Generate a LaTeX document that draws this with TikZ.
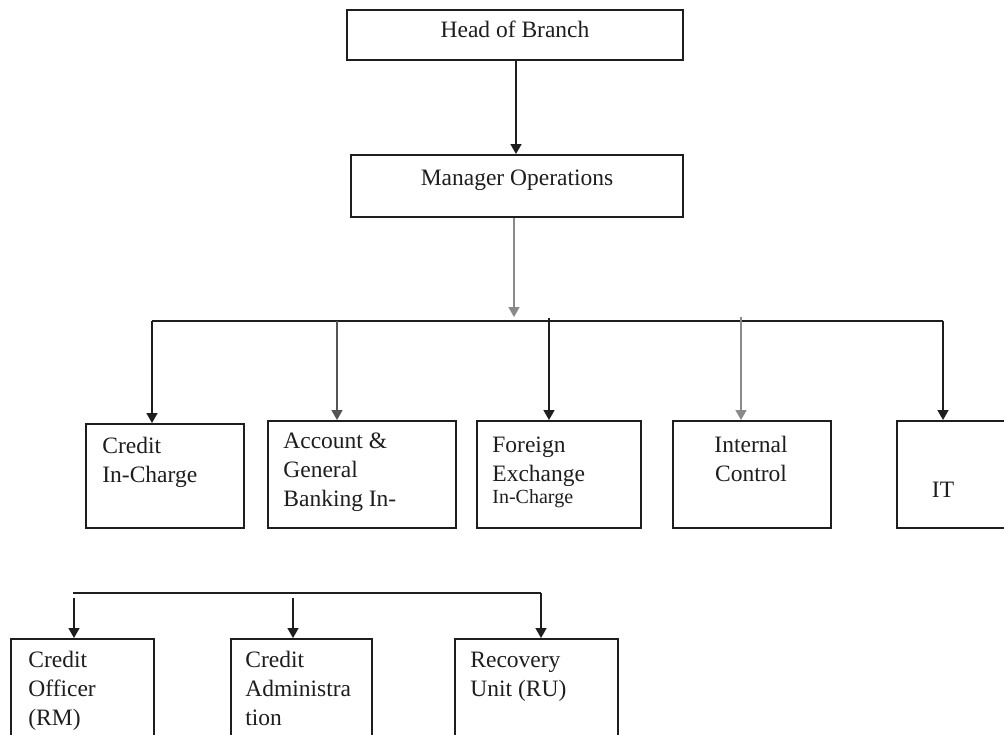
\documentclass[tikz,border=0pt]{standalone}
\usepackage{fontspec}
\setmainfont{Liberation Serif}
\usetikzlibrary{fit,arrows.meta}
\definecolor{ink}{HTML}{1E1E1E}
\definecolor{greyline}{HTML}{8A8A8A}
\definecolor{midline}{HTML}{555555}
\tikzset{
  box/.style={draw=ink, line width=1pt, inner sep=0pt},
  conn/.style={draw=ink, line width=0.8pt, -{Triangle[width=5.5pt,length=5pt]}},
  bus/.style={draw=ink, line width=0.8pt},
  txt/.style={inner sep=0pt, text=ink, font=\fontsize{11.75}{14.5}\selectfont},
  smalltxt/.style={inner sep=0pt, text=ink, font=\fontsize{10}{12}\selectfont}
}
\begin{document}
\begin{tikzpicture}[x=0.5pt,y=-0.5pt]
\useasboundingbox (0,0) rectangle (1004,734);
\clip (0,0) rectangle (1004,734);
\fill[white] (0,0) rectangle (1004,734);

% boxes
\node[box, fit={(347,10)(683,60)}] (head) {};
\node[box, fit={(351,155)(683,217)}] (mgr) {};
\node[box, fit={(86,424)(244,528)}] (credit) {};
\node[box, fit={(268,421)(456,528)}] (acct) {};
\node[box, fit={(477,421)(641,528)}] (forex) {};
\node[box, fit={(673,421)(831,528)}] (ictrl) {};
\node[box, fit={(897,421)(1020,528)}] (it) {};
\node[box, fit={(11,639)(154,760)}] (officer) {};
\node[box, fit={(231,639)(372,760)}] (admin) {};
\node[box, fit={(455,639)(618,760)}] (recovery) {};

% texts
\node[txt, anchor=base] (headt) at (515,37) {Head of Branch};
\node[txt, anchor=base] (mgrt) at (517,185) {Manager Operations};
\node[txt, anchor=base west] (creditt) at (102,453)
  {\begin{tabular}[t]{@{}l@{}}Credit\\In-Charge\end{tabular}};
\node[txt, anchor=base west] (acctt) at (283,448)
  {\begin{tabular}[t]{@{}l@{}}Account \&\\General\\Banking In-\end{tabular}};
\node[txt, anchor=base west] (forext) at (492,452)
  {\begin{tabular}[t]{@{}l@{}}Foreign\\Exchange\end{tabular}};
\node[smalltxt, anchor=base west] (forext2) at (492,503) {In-Charge};
\node[txt, anchor=base] (ictrlt) at (751,452)
  {\begin{tabular}[t]{@{}c@{}}Internal\\Control\end{tabular}};
\node[txt, anchor=base] (itt) at (943,497) {IT};
\node[txt, anchor=base west] (officert) at (28,667)
  {\begin{tabular}[t]{@{}l@{}}Credit\\Officer\\(RM)\end{tabular}};
\node[txt, anchor=base west] (admint) at (245,667)
  {\begin{tabular}[t]{@{}l@{}}Credit\\Administra\\tion\end{tabular}};
\node[txt, anchor=base west] (recoveryt) at (470,667)
  {\begin{tabular}[t]{@{}l@{}}Recovery\\Unit (RU)\end{tabular}};

% upper connectors
\coordinate (hm) at (516,60);
\draw[conn] (hm) -- (hm |- mgr.north);
\coordinate (busL) at (152,321);
\coordinate (busR) at (943,321);
\coordinate (busM) at (514,317);
\coordinate (dAcct) at (337,321);
\coordinate (dForex) at (549,318);
\coordinate (dIctrl) at (741,317);
\draw[bus] (busL) -- (busR);
\draw[conn, draw=greyline] (mgr.south -| busM) -- (busM);
\draw[conn] (busL) -- (busL |- credit.north);
\draw[conn, draw=midline] (dAcct) -- (dAcct |- acct.north);
\draw[conn] (dForex) -- (dForex |- forex.north);
\draw[conn, draw=greyline] (dIctrl) -- (dIctrl |- ictrl.north);
\draw[conn] (busR) -- (busR |- it.north);

% lower connectors
\coordinate (sbL) at (73,593);
\coordinate (sbR) at (541,593);
\coordinate (dOff) at (74,598);
\coordinate (dAdm) at (293,598);
\draw[bus] (sbL) -- (sbR);
\draw[conn] (dOff) -- (dOff |- officer.north);
\draw[conn] (dAdm) -- (dAdm |- admin.north);
\draw[conn] (sbR) -- (sbR |- recovery.north);
\end{tikzpicture}
\end{document}
